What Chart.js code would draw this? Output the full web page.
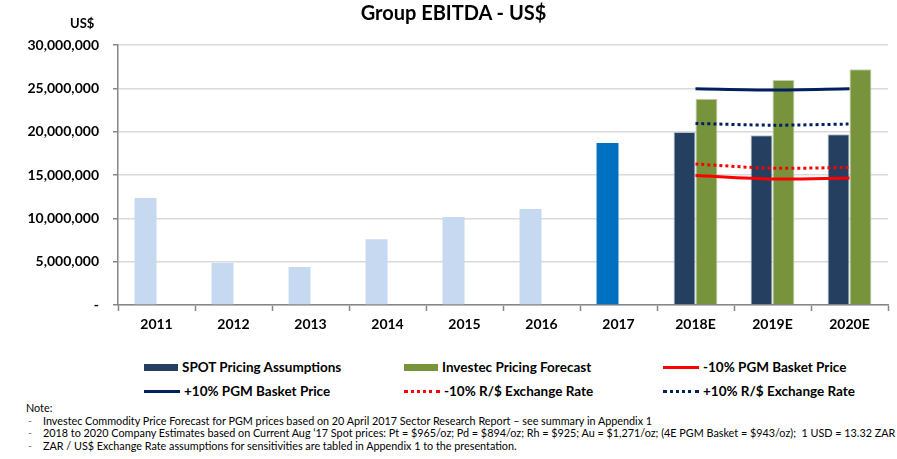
<!DOCTYPE html>
<html>
<head>
<meta charset="utf-8">
<script src="https://cdn.jsdelivr.net/npm/chart.js@4.4.0/dist/chart.umd.min.js"></script>
<style>
body { margin: 0; background: #fff; font-family: Lato, sans-serif; color: #000; }
#wrap { position: relative; width: 897px; height: 459px; overflow: hidden; }
#box { position: absolute; left: 0; top: 0; width: 897px; height: 345px; }
#title { position: absolute; left: 0; width: 907px; top: 0; text-align: center; font-weight: bold; font-size: 20px; line-height: 24px; }
#unit { position: absolute; left: 70px; top: 15px; font-weight: bold; font-size: 13px; line-height: 16px; }
.leg { position: absolute; height: 18px; display: flex; align-items: center; font-weight: bold; font-size: 13.5px; white-space: nowrap; }
.sw { display: inline-block; margin-right: 4px; }
#notes { position: absolute; left: 26px; top: 402px; font-size: 10.8px; line-height: 12.5px; white-space: nowrap; }
#notes .row { position: relative; padding-left: 17px; }
#notes .row span { position: absolute; left: 2px; color: #7f7f7f; }
</style>
</head>
<body>
<div id="wrap">
  <div id="box"><canvas id="ebitdaChart"></canvas></div>
  <div id="title">Group EBITDA - US$</div>
  <div id="unit">US$</div>
  <div id="legend"></div>
  <div id="notes">
    <div>Note:</div>
    <div class="row"><span>-</span>Investec Commodity Price Forecast for PGM prices based on 20 April 2017 Sector Research Report – see summary in Appendix 1</div>
    <div class="row"><span>-</span>2018 to 2020 Company Estimates based on Current Aug ‘17 Spot prices: Pt = $965/oz; Pd = $894/oz; Rh = $925; Au = $1,271/oz; (4E PGM Basket = $943/oz);&nbsp; 1 USD = 13.32 ZAR</div>
    <div class="row"><span>-</span>ZAR / US$ Exchange Rate assumptions for sensitivities are tabled in Appendix 1 to the presentation.</div>
  </div>
</div>
<script>
var years = ['2011', '2012', '2013', '2014', '2015', '2016', '2017', '2018E', '2019E', '2020E'];
var actualEbitda = [12350000, 4850000, 4380000, 7600000, 10150000, 11080000, 18700000, null, null, null];
var spotPricing = [null, null, null, null, null, null, null, 19950000, 19600000, 19700000];
var investecForecast = [null, null, null, null, null, null, null, 23800000, 25960000, 27200000];
var pgmMinus10 = [null, null, null, null, null, null, null, 14950000, 14550000, 14650000];
var pgmPlus10 = [null, null, null, null, null, null, null, 24950000, 24800000, 24950000];
var fxMinus10 = [null, null, null, null, null, null, null, 16270000, 15780000, 15880000];
var fxPlus10 = [null, null, null, null, null, null, null, 20950000, 20750000, 20880000];
var yTicks = [0, 5000000, 10000000, 15000000, 20000000, 25000000, 30000000];

var NAVY = '#243f60', GREEN = '#77933c', DARK = '#002060', RED = '#ff0000';
var actualColors = years.map(function (y) { return y === '2017' ? '#0070c0' : '#c6d9f0'; });

var lineBase = { type: 'line', pointRadius: 0, borderWidth: 3, tension: 0.3, fill: false, order: 1 };

var ctx = document.getElementById('ebitdaChart').getContext('2d');
var chart = new Chart(ctx, {
    type: 'bar',
    data: {
        labels: years,
        datasets: [
            { label: 'Actual', data: actualEbitda, backgroundColor: actualColors, stack: 'left', order: 2, legend: false },
            { label: 'SPOT Pricing Assumptions', data: spotPricing, backgroundColor: NAVY, borderColor: '#b9c3d0', borderWidth: 1, stack: 'left', order: 2 },
            { label: 'Investec Pricing Forecast', data: investecForecast, backgroundColor: GREEN, borderColor: '#c3cfae', borderWidth: 1, stack: 'right', order: 2 },
            Object.assign({ label: '-10% PGM Basket Price', data: pgmMinus10, borderColor: RED, stack: 'l1' }, lineBase),
            Object.assign({ label: '+10% PGM Basket Price', data: pgmPlus10, borderColor: DARK, stack: 'l2' }, lineBase),
            Object.assign({ label: '-10% R/$ Exchange Rate', data: fxMinus10, borderColor: RED, borderDash: [3, 3], stack: 'l3' }, lineBase),
            Object.assign({ label: '+10% R/$ Exchange Rate', data: fxPlus10, borderColor: DARK, borderDash: [3, 3], stack: 'l4' }, lineBase)
        ]
    },
    options: {
        responsive: true,
        maintainAspectRatio: false,
        animation: false,
        layout: { padding: { top: 45, right: 9, left: 0, bottom: 0 } },
        datasets: { bar: { barPercentage: 1, categoryPercentage: 0.57 } },
        plugins: { legend: { display: false }, tooltip: { enabled: false }, title: { display: false } },
        scales: {
            x: {
                grid: { offset: true, drawOnChartArea: false, tickLength: 6, tickColor: '#868686', tickWidth: 1.5 },
                border: { color: '#868686', width: 1.5 },
                ticks: { color: '#000', font: { family: 'Lato', weight: 'bold', size: 14 }, padding: 5 },
                afterFit: function (scale) { scale.height = 40; }
            },
            y: {
                stacked: true,
                min: 0,
                max: 30000000,
                afterBuildTicks: function (scale) { scale.ticks = yTicks.map(function (v) { return { value: v }; }); },
                grid: { color: '#dadada', lineWidth: 1.5, tickLength: 5, tickColor: '#868686', tickWidth: 1.5 },
                border: { color: '#868686', width: 1.5 },
                ticks: {
                    color: '#000',
                    padding: 14,
                    font: { family: 'Lato', weight: 'bold', size: 14 },
                    callback: function (v) { return v === 0 ? '-' : v.toLocaleString('en-US'); }
                },
                afterFit: function (scale) { scale.width = 118; }
            }
        }
    }
});

// legend built from the chart's own datasets
var legendSlots = [[144, 367], [404, 367], [663, 367], [144, 391], [404, 391], [663, 391]];
var legendEl = document.getElementById('legend');
chart.data.datasets.filter(function (d) { return d.legend !== false; }).forEach(function (d, i) {
    var item = document.createElement('div');
    item.className = 'leg';
    item.style.left = legendSlots[i][0] + 'px';
    item.style.top = (legendSlots[i][1] - 9) + 'px';
    var sw = document.createElement('span');
    sw.className = 'sw';
    if (d.type === 'line') {
        sw.style.width = '36px';
        sw.style.borderTop = '3px ' + (d.borderDash ? 'dotted ' : 'solid ') + d.borderColor;
    } else {
        sw.style.width = '34px';
        sw.style.height = '7px';
        sw.style.background = d.backgroundColor;
    }
    item.appendChild(sw);
    item.appendChild(document.createTextNode(d.label));
    legendEl.appendChild(item);
});
</script>
</body>
</html>
